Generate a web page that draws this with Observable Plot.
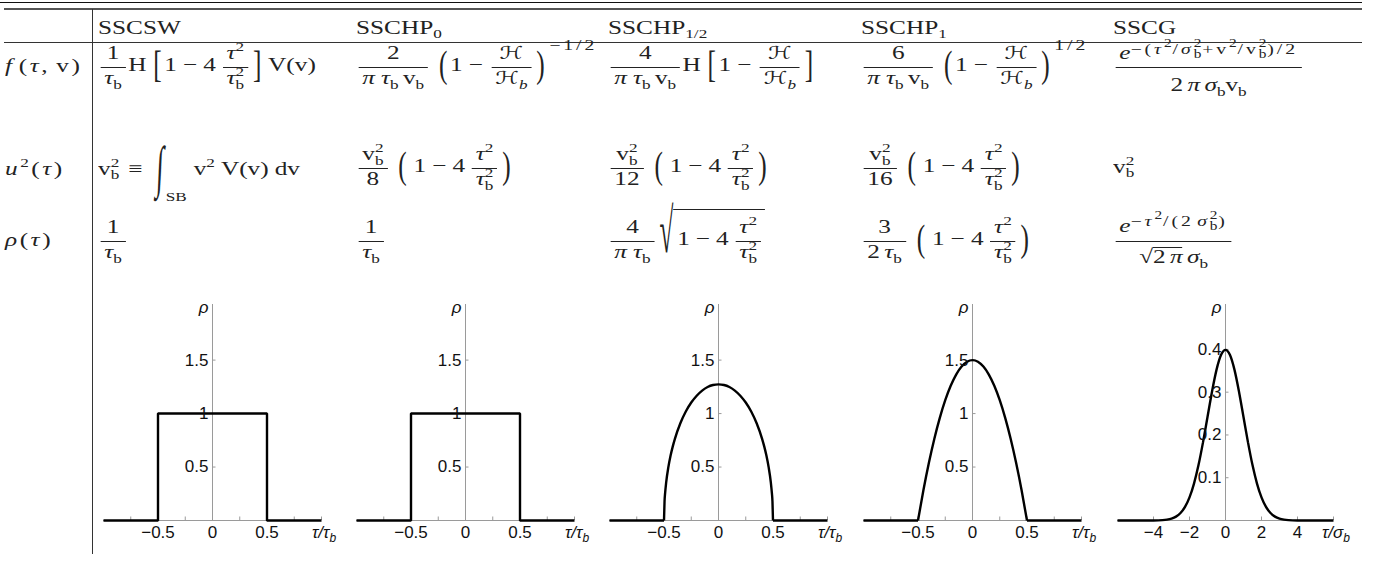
<!DOCTYPE html>
<html><head><meta charset="utf-8">
<script src="https://cdn.jsdelivr.net/npm/d3@7"></script>
<script src="https://cdn.jsdelivr.net/npm/@observablehq/plot@0.6"></script>
<style>
html,body{margin:0;padding:0;background:#fff;}
#page{position:relative;width:1383px;height:562px;overflow:hidden;background:#fff;}
.rule{position:absolute;}
.m{position:absolute;white-space:nowrap;font-family:"Liberation Serif","DejaVu Serif",serif;font-size:19px;line-height:1.25;color:#222;transform-origin:0 0;transform:scaleX(1.33);}
.lbl{letter-spacing:0.1em;}
.mk{display:inline-block;width:0;height:0;vertical-align:baseline;}
.m i{font-style:italic;}
.p{font-size:0.68em;position:relative;top:-0.62em;line-height:0;}
.b{font-size:0.68em;position:relative;top:0.36em;line-height:0;}
.bk{margin-left:-0.5em;}
.ex{font-size:0.78em;position:relative;top:-1.5em;line-height:0;letter-spacing:0.15em;margin-left:0.1em;}
.ex2{font-size:0.78em;position:relative;top:-0.38em;line-height:0;letter-spacing:0.15em;}
.ex2 .p,.ex2 .b{font-size:0.78em;letter-spacing:0.05em;}
.ex2 .bk{margin-left:-0.55em;}
.fr{display:inline-flex;flex-direction:column;align-items:stretch;vertical-align:calc(0.5375em + var(--pb));margin:0 0.1em;}
.fr>.n{line-height:1.25em;padding:0 0.15em var(--pb);text-align:center;}
.fr>.d{line-height:1.1em;padding:var(--pt) 0.15em 0;border-top:1px solid #222;text-align:center;}
.dl{display:inline-block;line-height:1;transform-origin:50% 0.59em;transform:scaleY(var(--k));margin:0 0.1em;}
.ms{display:inline-block;width:0.24em;}
.ls{display:inline-block;width:0.36em;}
.ts{display:inline-block;width:0.17em;}
.cal{font-family:"DejaVu Serif","DejaVu Sans",serif;font-style:normal;font-size:0.95em;}
.int{display:inline-block;line-height:1;transform-origin:50% 0.59em;transform:translateY(0.06em) scaleY(3.0) skewX(-6deg);margin:0 0.12em 0 0.2em;}
.lim{font-size:0.68em;position:relative;top:2.05em;line-height:0;margin-left:-0.05em;margin-right:0.4em;}
.ov{display:inline-block;border-top:1px solid #222;padding-top:0.3em;line-height:1.25em;padding-right:0.05em;}
.rad{display:inline-block;line-height:1;transform-origin:50% 0.837em;transform:translateY(0.3em) scaleY(3.3);margin:0 -0.02em 0 0.1em;}
.ov2{display:inline-block;border-top:1px solid #222;line-height:0.95em;padding-top:0.02em;}
.rad2{display:inline-block;line-height:1;transform-origin:50% 0.837em;transform:scaleY(1.05);}
.chart{position:absolute;}
</style>
</head><body><div id="page"></div>
<script>
// ---------- data ----------
const columns = ["SSCSW", "SSCHP0", "SSCHP1/2", "SSCHP1", "SSCG"];
const rowLabels = ["f(τ, v)", "u²(τ)", "ρ(τ)"];

// step profiles (SSCSW, SSCHP0)
const tauStep = [-1, -0.5, -0.5, 0.5, 0.5, 1];
const rhoSSCSW = [0, 0, 1, 1, 0, 0];
const rhoSSCHP0 = [0, 0, 1, 1, 0, 0];

// flat base outside the support
const tauBaseLeft = [-1, -0.5];
const tauBaseRight = [0.5, 1];
const rhoBase = [0, 0];

// SSCHP1/2 (half ellipse)
const tauArc = [-0.5, -0.495, -0.49, -0.48, -0.46, -0.44, -0.42, -0.4, -0.35, -0.3, -0.25, -0.2, -0.15, -0.1, -0.05, 0,
                0.05, 0.1, 0.15, 0.2, 0.25, 0.3, 0.35, 0.4, 0.42, 0.44, 0.46, 0.48, 0.49, 0.495, 0.5];
const rhoSSCHPhalf = [0, 0.180, 0.253, 0.357, 0.499, 0.605, 0.691, 0.764, 0.909, 1.019, 1.103, 1.167, 1.215, 1.248, 1.267, 1.273,
                      1.267, 1.248, 1.215, 1.167, 1.103, 1.019, 0.909, 0.764, 0.691, 0.605, 0.499, 0.357, 0.253, 0.180, 0];

// SSCHP1 (parabola)
const tauPar = [-0.5, -0.45, -0.4, -0.35, -0.3, -0.25, -0.2, -0.15, -0.1, -0.05, 0, 0.05, 0.1, 0.15, 0.2, 0.25, 0.3, 0.35, 0.4, 0.45, 0.5];
const rhoSSCHP1 = [0, 0.285, 0.54, 0.765, 0.96, 1.125, 1.26, 1.365, 1.44, 1.485, 1.5, 1.485, 1.44, 1.365, 1.26, 1.125, 0.96, 0.765, 0.54, 0.285, 0];

// SSCG (gaussian, tau in units of sigma_b)
const tauGauss = [-6, -5, -4.5, -4, -3.5, -3.25, -3, -2.75, -2.5, -2.25, -2, -1.75, -1.5, -1.25, -1, -0.75, -0.5, -0.25, 0,
                  0.25, 0.5, 0.75, 1, 1.25, 1.5, 1.75, 2, 2.25, 2.5, 2.75, 3, 3.25, 3.5, 4, 4.5, 5, 6];
const rhoSSCG = [0, 0, 0.00002, 0.00013, 0.00087, 0.0020, 0.0044, 0.0091, 0.0175, 0.0317, 0.0540, 0.0863, 0.1295, 0.1826, 0.2420, 0.3011, 0.3521, 0.3867, 0.3989,
                 0.3867, 0.3521, 0.3011, 0.2420, 0.1826, 0.1295, 0.0863, 0.0540, 0.0317, 0.0175, 0.0091, 0.0044, 0.0020, 0.00087, 0.00013, 0.00002, 0, 0];

// axis ticks
const tauTickLabels = [-0.5, 0, 0.5];
const tauTickMarks = [-0.75, -0.5, -0.25, 0.25, 0.5, 0.75, 1];
const rhoTickLabels = [0.5, 1, 1.5];
const sigmaTickLabels = [-4, -2, 0, 2, 4];
const sigmaTickMarks = [-4, -2, 2, 4, 6];
const gaussTickLabels = [0.1, 0.2, 0.3, 0.4];

// ---------- page rules ----------
const page = document.getElementById("page");
function rule(l, t, w, h, c) {
  const d = document.createElement("div");
  d.className = "rule";
  Object.assign(d.style, {left: l + "px", top: t + "px", width: w + "px", height: h + "px", background: c});
  page.appendChild(d);
}
rule(0, 2, 1362, 1, "#111");
rule(4, 8, 1358, 2, "#555");
rule(4, 41.5, 1358, 1.5, "#333");
rule(91.8, 9, 1.2, 545, "#333");

// ---------- math helpers ----------
const ms = '<span class="ms"></span>', ts = '<span class="ts"></span>', ls = '<span class="ls"></span>';
const minus = ms + "−" + ms;
const P = x => `<span class="p">${x}</span>`;
const B = x => `<span class="b">${x}</span>`;
const SS = (u, d) => `<span class="p">${u}</span><span class="b bk">${d}</span>`;
const F = (n, d, pb = 0.12, pt = 0) => `<span class="fr" style="--pb:${pb}em;--pt:${pt}em"><span class="n">${n}</span><span class="d">${d}</span></span>`;
const DL = (c, k = 2.0) => `<span class="dl" style="--k:${k}">${c}</span>`;
const tau = "<i>τ</i>", sig = "<i>σ</i>", pi = "<i>π</i>", rho = "<i>ρ</i>";
const tb = tau + B("b"), tb2 = tau + SS("2", "b"), t2 = tau + P("2");
const vb = "v" + B("b"), vb2 = "v" + SS("2", "b");
const sb = sig + B("b"), sb2 = sig + SS("2", "b");
const Hc = '<span class="cal">ℋ</span>', Hb = Hc + B("<i>b</i>");
const sqrtBig = x => `<span class="rad">√</span><span class="ov">${x}</span>`;
const sqrtSmall = x => `<span class="rad2">√</span><span class="ov2">${x}</span>`;
const oneMinus4 = ts + "1" + minus + "4" + ts + F(t2, tb2);

function place(html, x, baseline, cls = "") {
  const el = document.createElement("div");
  el.className = "m " + cls;
  el.innerHTML = '<span class="mk"></span>' + html;
  el.style.left = x + "px";
  el.style.top = "0px";
  page.appendChild(el);
  const b = el.querySelector(".mk").getBoundingClientRect().top - page.getBoundingClientRect().top;
  el.style.top = (baseline - b) + "px";
}

const colX = [98, 356, 608, 861, 1113];
const yHead = 33.5, yF = 71.8, yU = 172.8, yR = 245.8;

// header
const headHtml = ["SSCSW", "SSCHP" + B("0"), "SSCHP" + B("1/2"), "SSCHP" + B("1"), "SSCG"];
headHtml.forEach((h, i) => place(h, colX[i], yHead));

// row labels
place("<i>f</i>" + ts + "(" + tau + "," + ms + "v)", 5, yF, "lbl");
place("<i>u</i>" + P("2") + "(" + tau + ")", 5, yU + 2, "lbl");
place(rho + "(" + tau + ")", 5, yR, "lbl");

// f row
const piTbVb = pi + ms + tb + ts + vb;
place(F("1", tb) + "H" + ts + DL("[") + "1" + minus + "4" + ts + F(t2, tb2) + DL("]") + ts + "V(v)", colX[0], yF);
place(F("2", piTbVb) + ms + DL("(") + "1" + minus + F(Hc, Hb) + DL(")") + `<span class="ex">−1/2</span>`, colX[1], yF);
place(F("4", piTbVb) + "H" + ts + DL("[") + "1" + minus + F(Hc, Hb) + DL("]"), colX[2], yF);
place(F("6", piTbVb) + ms + DL("(") + "1" + minus + F(Hc, Hb) + DL(")") + `<span class="ex">1/2</span>`, colX[3], yF);
place(F(`<i>e</i><span class="ex2">−(${t2}/${sb2}+v${P("2")}/${vb2})/2</span>`, "2" + ts + pi + ts + sb + vb, 0.12, 0.35), colX[4], yF);

// u^2 row
place(vb2 + ls + "≡" + ls + '<span class="int">∫</span><span class="lim">SB</span>' + "v" + P("2") + ms + "V(v)" + ms + "dv", colX[0], yU + 2);
place(F(vb2, "8") + ms + DL("(") + oneMinus4 + DL(")"), colX[1], yU);
place(F(vb2, "12") + ms + DL("(") + oneMinus4 + DL(")"), colX[2], yU);
place(F(vb2, "16") + ms + DL("(") + oneMinus4 + DL(")"), colX[3], yU);
place(vb2, colX[4], yU);

// rho row
place(F("1", tb), colX[0], yR);
place(F("1", tb), colX[1], yR);
place(F("4", pi + ms + tb) + sqrtBig(oneMinus4), colX[2], yR);
place(F("3", "2" + ts + tb) + ms + DL("(") + oneMinus4 + DL(")"), colX[3], yR);
place(F(`<i>e</i><span class="ex2">−${t2}/(2${ts}${sb2})</span>`, sqrtSmall("2" + ts + pi) + ts + sb, 0.2, 0.25), colX[4], yR);

// ---------- charts ----------
const rows = (xs, ys) => xs.map((x, i) => ({x, y: ys[i]}));
const fmt = d => d < 0 ? "−" + (-d) : String(d);

const chartSpecs = [
  {left: 102.7, w: 218, xDomain: [-1, 1], yDomain: [0, 2.02], unit: "τ",
   segs: [{d: rows(tauStep, rhoSSCSW), curve: "linear"}],
   xLab: tauTickLabels, xMarks: tauTickMarks, yLab: rhoTickLabels},
  {left: 356, w: 218, xDomain: [-1, 1], yDomain: [0, 2.02], unit: "τ",
   segs: [{d: rows(tauStep, rhoSSCHP0), curve: "linear"}],
   xLab: tauTickLabels, xMarks: tauTickMarks, yLab: rhoTickLabels},
  {left: 609.3, w: 218, xDomain: [-1, 1], yDomain: [0, 2.02], unit: "τ",
   segs: [{d: rows(tauBaseLeft, rhoBase), curve: "linear"}, {d: rows(tauArc, rhoSSCHPhalf), curve: "monotone-x"}, {d: rows(tauBaseRight, rhoBase), curve: "linear"}],
   xLab: tauTickLabels, xMarks: tauTickMarks, yLab: rhoTickLabels},
  {left: 862.7, w: 218, xDomain: [-1, 1], yDomain: [0, 2.02], unit: "τ",
   segs: [{d: rows(tauBaseLeft, rhoBase), curve: "linear"}, {d: rows(tauPar, rhoSSCHP1), curve: "monotone-x"}, {d: rows(tauBaseRight, rhoBase), curve: "linear"}],
   xLab: tauTickLabels, xMarks: tauTickMarks, yLab: rhoTickLabels},
  {left: 1116.7, w: 216, xDomain: [-6, 6], yDomain: [0, 0.505], unit: "σ",
   segs: [{d: rows(tauGauss, rhoSSCG), curve: "monotone-x"}],
   xLab: sigmaTickLabels, xMarks: sigmaTickMarks, yLab: gaussTickLabels}
];

const ml = 40, mr = 44, mt = 14, mb = 30, ph = 216, top0 = 304;
const axisGray = "#9a9a9a", labelCol = "#111";
chartSpecs.forEach(s => {
  const [x0, x1] = s.xDomain, [y0, y1] = s.yDomain;
  const tickY = y1 * 3.5 / ph, tickX = (x1 - x0) * 3.5 / s.w;
  const svg = Plot.plot({
    width: s.w + ml + mr, height: ph + mt + mb,
    marginLeft: ml, marginRight: mr, marginTop: mt, marginBottom: mb,
    x: {domain: s.xDomain, axis: null},
    y: {domain: s.yDomain, axis: null},
    style: {background: "transparent", overflow: "visible", fontFamily: "Liberation Sans, Arial, sans-serif", fontSize: "17px"},
    marks: [
      Plot.ruleY([y0], {stroke: axisGray, strokeWidth: 1}),
      Plot.ruleX([0], {stroke: axisGray, strokeWidth: 1}),
      Plot.ruleX(s.xMarks, {x: d => d, y1: y0, y2: tickY, stroke: axisGray, strokeWidth: 1}),
      Plot.ruleY(s.yLab, {y: d => d, x1: 0, x2: tickX, stroke: axisGray, strokeWidth: 1}),
      ...s.segs.map(g => Plot.line(g.d, {x: "x", y: "y", curve: g.curve, stroke: "#000", strokeWidth: 2.4, strokeLinejoin: "miter", strokeLinecap: "butt"})),
      Plot.text(s.xLab, {x: d => d, y: y0, text: fmt, dy: 12, fontSize: 17, fill: labelCol}),
      Plot.text(s.yLab, {x: 0, y: d => d, text: d => String(d), dx: -4, textAnchor: "end", fontSize: 17, fill: labelCol}),
      Plot.text(["ρ"], {x: 0, y: y1, text: d => d, dx: -4, dy: 3, textAnchor: "end", fontSize: 17, fontStyle: "italic", fill: labelCol})
    ]
  });
  const sx = svg.scale("x"), sy = svg.scale("y");
  const lab = d3.select(svg).append("text")
    .attr("x", sx.apply(x1) + 3).attr("y", sy.apply(y0) + 18)
    .attr("font-family", "Liberation Sans, Arial, sans-serif").attr("font-size", 17)
    .attr("font-style", "italic").attr("fill", labelCol);
  lab.append("tspan").text("τ/" + s.unit);
  lab.append("tspan").attr("font-size", 12).attr("dy", 4).text("b");
  const wrap = document.createElement("div");
  wrap.className = "chart";
  wrap.style.left = (s.left - ml) + "px";
  wrap.style.top = (top0 - mt) + "px";
  wrap.appendChild(svg);
  page.appendChild(wrap);
});
</script>
</body></html>
